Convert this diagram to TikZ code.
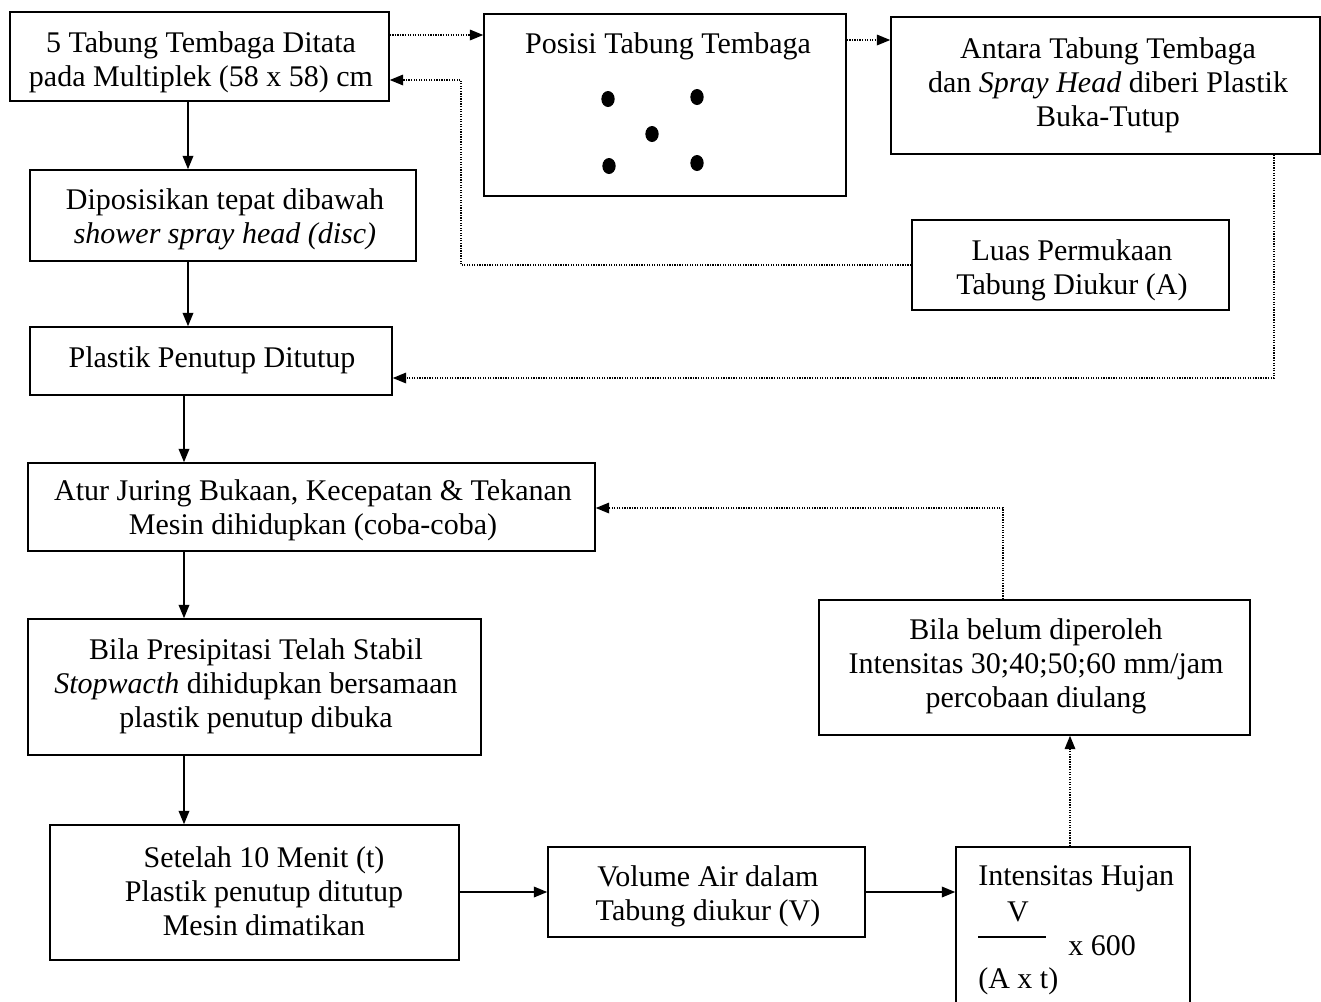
\documentclass[tikz,border=0pt]{standalone}
\usepackage{fontspec}
\setmainfont{Liberation Serif}
\usetikzlibrary{arrows.meta}
\begin{document}
\begin{tikzpicture}[x=0.75pt,y=-0.75pt,
  box/.style={draw, line width=1.2pt, inner sep=0pt},
  txt/.style={inner sep=0pt, align=center, font=\fontsize{22.5}{25.5}\selectfont},
  flow/.style={line width=1pt, -{Triangle[length=10pt,width=8pt]}},
  dflow/.style={line width=0.9pt, densely dotted, -{Triangle[length=10pt,width=8pt]}}
]
\useasboundingbox (0,0) rectangle (1321,1001);

% boxes
\node[box, minimum width={379*0.75pt}, minimum height={89*0.75pt}] (b1) at (199.5,56.5) {};
\node[txt] (b1t) at (201,62.5) {5 Tabung Tembaga Ditata\\pada Multiplek (58 x 58) cm};

\node[box, minimum width={362*0.75pt}, minimum height={182*0.75pt}] (pos) at (665,105) {};
\node[txt] (post) at (668,46) {Posisi Tabung Tembaga};
\fill (608,99) ellipse [x radius=5pt, y radius=6pt];
\fill (697,97) ellipse [x radius=5pt, y radius=6pt];
\fill (652,134) ellipse [x radius=5pt, y radius=6pt];
\fill (609,166) ellipse [x radius=5pt, y radius=6pt];
\fill (697,163) ellipse [x radius=5pt, y radius=6pt];

\node[box, minimum width={429*0.75pt}, minimum height={137*0.75pt}] (ant) at (1105.5,85.5) {};
\node[txt] (antt) at (1108,85) {Antara Tabung Tembaga\\dan \textit{Spray Head} diberi Plastik\\Buka-Tutup};

\node[box, minimum width={386*0.75pt}, minimum height={91*0.75pt}] (dp) at (223,215.5) {};
\node[txt] (dpt) at (225,219) {Diposisikan tepat dibawah\\\textit{shower spray head (disc)}};

\node[box, minimum width={317*0.75pt}, minimum height={90*0.75pt}] (lu) at (1070.5,265) {};
\node[txt] (lut) at (1072,270) {Luas Permukaan\\Tabung Diukur (A)};

\node[box, minimum width={362*0.75pt}, minimum height={68*0.75pt}] (pl) at (211,361) {};
\node[txt] (plt) at (212,360) {Plastik Penutup Ditutup};

\node[box, minimum width={567*0.75pt}, minimum height={88*0.75pt}] (at) at (311.5,507) {};
\node[txt] (att) at (313,510.5) {Atur Juring Bukaan, Kecepatan \& Tekanan\\Mesin dihidupkan (coba-coba)};

\node[box, minimum width={453*0.75pt}, minimum height={136*0.75pt}] (pr) at (254.5,687) {};
\node[txt] (prt) at (256,686) {Bila Presipitasi Telah Stabil\\\textit{Stopwacth} dihidupkan bersamaan\\plastik penutup dibuka};

\node[box, minimum width={409*0.75pt}, minimum height={135*0.75pt}] (st) at (254.5,892.5) {};
\node[txt] (stt) at (264,891) {Setelah 10 Menit (t)\\Plastik penutup ditutup\\Mesin dimatikan};

\node[box, minimum width={317*0.75pt}, minimum height={90*0.75pt}] (vo) at (706.5,892) {};
\node[txt] (vot) at (708,896) {Volume Air dalam\\Tabung diukur (V)};

\node[box, minimum width={431*0.75pt}, minimum height={135*0.75pt}] (bb) at (1034.5,667.5) {};
\node[txt] (bbt) at (1036,666) {Bila belum diperoleh\\Intensitas 30;40;50;60 mm/jam\\percobaan diulang};

\node[box, minimum width={234*0.75pt}, minimum height={180*0.75pt}] (ih) at (1073,937) {};
\node[txt, anchor=west] (iht) at (978,879) {Intensitas Hujan};
\node[txt] (ihv) at (1018,912) {V};
\node[txt, anchor=west] (ihx) at (1068,946) {x 600};
\node[txt, anchor=west] (iha) at (978,981) {(A x t)};
\draw[line width=1pt] (978,937) -- (1046,937);

% coordinates
\coordinate (c1) at (188,0);
\coordinate (c2) at (184,0);
\coordinate (r1) at (0,35);
\coordinate (r2) at (0,40);
\coordinate (k1) at (461,80);
\coordinate (k2) at (1274,378);
\coordinate (k3) at (1070,0);
\coordinate (k4) at (1003,508);

% solid connectors
\draw[flow] (b1.south -| c1) -- (dp.north -| c1);
\draw[flow] (dp.south -| c1) -- (pl.north -| c1);
\draw[flow] (pl.south -| c2) -- (at.north -| c2);
\draw[flow] (at.south -| c2) -- (pr.north -| c2);
\draw[flow] (pr.south -| c2) -- (st.north -| c2);
\draw[flow] (st.east |- vo.west) -- (vo.west);
\draw[flow] (vo.east) -- (vo.east -| ih.west);

% dotted connectors
\draw[dflow] (b1.east |- r1) -- (pos.west |- r1);
\draw[dflow] (pos.east |- r2) -- (ant.west |- r2);
\draw[dflow] (lu.west) -| (k1) -- (b1.east |- k1);
\draw[dflow] (ant.south -| k2) -- (k2) -- (pl.east |- k2);
\draw[dflow] (ih.north -| k3) -- (bb.south -| k3);
\draw[dflow] (bb.north -| k4) -- (k4) -- (at.east |- k4);
\end{tikzpicture}
\end{document}
